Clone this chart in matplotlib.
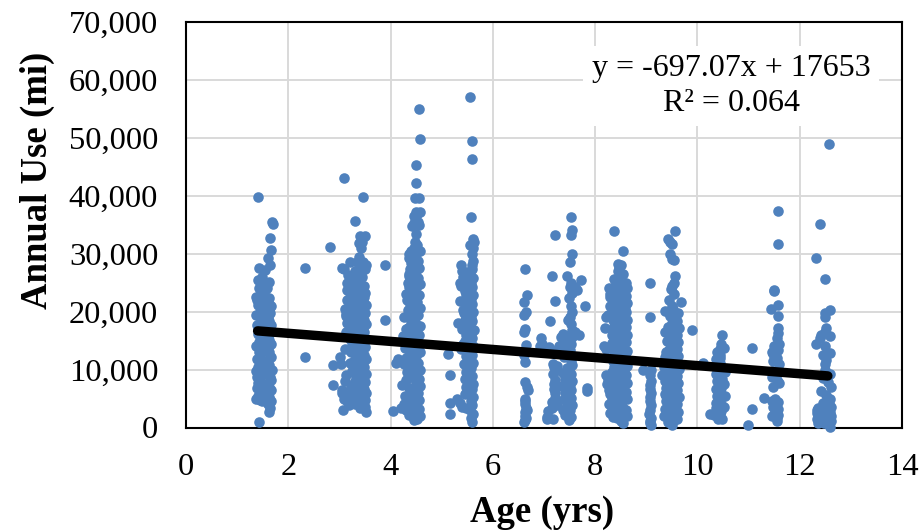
import matplotlib
matplotlib.use('Agg')
import matplotlib.pyplot as plt

# each strip is one thin column of dots
age_a = [1.42, 1.4, 1.36, 1.45, 1.39, 1.41, 1.38, 1.43, 1.37, 1.4, 1.44, 1.38, 1.42, 1.36, 1.43, 1.4, 1.39, 1.37, 1.44, 1.41, 1.38, 1.36, 1.42, 1.4, 1.43, 1.4]
use_a = [1000, 5500, 5000, 4700, 6900, 7700, 8700, 8200, 9800, 10500, 11000, 11800, 13000, 14000, 14800, 16100, 17700, 19400, 20000, 21100, 22000, 22600, 24000, 25500, 27600, 39800]
age_b = [1.62, 1.65, 1.6, 1.66, 1.63, 1.58, 1.67, 1.62, 1.6, 1.66, 1.64, 1.59, 1.68, 1.62, 1.6, 1.66, 1.63, 1.6, 1.67, 1.62, 1.6, 1.65, 1.58, 1.66, 1.63, 1.6, 1.64, 1.62, 1.66, 1.63, 1.62, 1.55, 1.58, 1.63, 1.64, 1.6, 1.66]
use_b = [2700, 3300, 4100, 4600, 5300, 5800, 6400, 7000, 7600, 8200, 8800, 9500, 10000, 10800, 11600, 12200, 13000, 13400, 14500, 15100, 15700, 16300, 16900, 17700, 18400, 19100, 19800, 20300, 20900, 21400, 22300, 23700, 24000, 25200, 28000, 29200, 30600]
age_c = [1.65, 1.68, 1.7]
use_c = [32700, 35400, 35200]
age_a2 = [1.48, 1.52, 1.5, 1.46, 1.54, 1.5, 1.47, 1.52, 1.55, 1.48, 1.5, 1.53, 1.47, 1.5, 1.54, 1.48, 1.5, 1.46, 1.52, 1.5, 1.48, 1.54]
use_a2 = [4500, 6200, 7400, 8900, 10200, 11500, 12900, 13800, 15000, 15900, 16900, 18000, 18800, 19700, 20700, 21500, 22400, 23200, 24200, 25100, 26000, 27200]

age_d = [2.32, 2.32, 2.82, 2.87, 2.87, 3.08, 3.07, 3.06, 3.05, 3.1, 3.12, 3.03, 3.02, 3.1, 3.08, 3.15, 3.12, 3.17, 3.13, 3.1, 3.15, 3.14, 3.05, 3.08, 3.15, 3.2, 3.17]
use_d = [27600, 12100, 31100, 10800, 7300, 43000, 3000, 5900, 6400, 8000, 9000, 11000, 12200, 13600, 5000, 4500, 16500, 19000, 19600, 20500, 22000, 23800, 27500, 27400, 25000, 28500, 26400]
age_e = [3.3, 3.28, 3.32, 3.3, 3.33, 3.27, 3.3, 3.34, 3.28, 3.31, 3.35, 3.29, 3.32, 3.3, 3.34, 3.27, 3.31, 3.29, 3.33, 3.3, 3.28, 3.34, 3.3, 3.32, 3.29, 3.33, 3.31, 3.36, 3.3, 3.27, 3.32, 3.3, 3.35, 3.38, 3.4, 3.3]
use_e = [4000, 4600, 5300, 6000, 6700, 7300, 8100, 8800, 9400, 10200, 10900, 11500, 12300, 12900, 13700, 14300, 15100, 15800, 16500, 17300, 18000, 18800, 19500, 20200, 20900, 21700, 22400, 23000, 23800, 24600, 25300, 27000, 28600, 31800, 33000, 35600]
age_f = [3.52, 3.5, 3.46, 3.5, 3.44, 3.52, 3.48, 3.45, 3.5, 3.47, 3.52, 3.44, 3.49, 3.46, 3.51, 3.48, 3.44, 3.5, 3.47, 3.52, 3.45, 3.49, 3.46, 3.51, 3.48, 3.44, 3.5, 3.47, 3.52, 3.46, 3.49, 3.5, 3.48, 3.45, 3.5, 3.52, 3.46, 3.5, 3.47]
use_f = [2700, 3500, 4000, 4700, 5300, 6000, 6600, 7300, 7900, 8600, 9300, 10000, 10500, 11300, 11900, 12600, 13200, 13900, 14500, 15300, 15900, 16500, 17200, 17900, 18500, 19100, 19800, 20500, 21200, 21800, 22500, 23200, 24500, 26000, 27300, 28000, 28600, 33000, 39800]
age_e2 = [3.4, 3.38, 3.42, 3.4, 3.37, 3.42, 3.4, 3.38, 3.43, 3.4, 3.37, 3.42, 3.39, 3.41, 3.38, 3.43, 3.4, 3.37, 3.42, 3.4, 3.38, 3.43, 3.4, 3.37, 3.42, 3.4, 3.44, 3.38, 3.42, 3.45]
use_e2 = [3400, 4400, 5600, 6500, 7600, 8500, 9700, 10700, 11700, 12700, 13500, 14600, 15500, 16400, 17400, 18300, 19300, 20100, 21000, 21900, 22700, 23600, 24400, 25200, 26100, 27000, 28200, 29500, 31000, 32000]
age_e3 = [3.18, 3.2, 3.22, 3.24, 3.2, 3.22, 3.25, 3.2, 3.18, 3.24, 3.22, 3.2, 3.18, 3.24, 3.22, 3.2, 3.24, 3.22, 3.14, 3.12]
use_e3 = [3800, 5800, 7000, 9800, 11200, 13100, 14200, 15200, 16000, 17200, 18200, 19200, 20000, 21100, 21800, 23200, 24200, 25900, 18000, 19200]

age_g = [3.9, 3.9, 4.1, 4.15, 4.05, 4.2, 4.27, 4.3, 4.28, 4.22, 4.3, 4.32, 4.26, 4.3, 4.28, 4.24, 4.32, 4.3, 4.27, 4.35, 4.32, 4.3, 4.34, 4.37, 4.37]
use_g = [28000, 18500, 11200, 11900, 2900, 3400, 4000, 3100, 5500, 7300, 8200, 9500, 11000, 12000, 13800, 15800, 15200, 17000, 19000, 20300, 22000, 23000, 25000, 26500, 30000]
age_h = [4.45, 4.52, 4.58, 4.48, 4.55, 4.42, 4.5, 4.56, 4.46, 4.53, 4.43, 4.58, 4.49, 4.55, 4.44, 4.51, 4.57, 4.47, 4.53, 4.42, 4.5, 4.58, 4.46, 4.54, 4.43, 4.49, 4.56, 4.45, 4.52, 4.58, 4.47, 4.42, 4.54, 4.5, 4.57, 4.45, 4.52, 4.48, 4.55, 4.43, 4.5, 4.57, 4.46, 4.53, 4.44, 4.5, 4.56, 4.48, 4.54, 4.45, 4.5, 4.57, 4.46, 4.52, 4.47]
use_h = [1300, 1500, 2000, 2600, 3200, 3700, 4300, 4800, 5400, 6000, 6600, 7100, 7700, 8300, 8900, 9500, 10000, 10600, 11200, 11800, 12400, 13000, 13500, 14100, 14700, 15300, 15900, 16500, 17000, 17600, 18200, 18800, 19400, 20000, 20600, 21200, 21700, 22300, 22900, 23500, 24100, 24700, 25300, 25800, 26400, 27000, 27600, 28200, 28800, 29400, 30000, 30500, 31000, 31500, 32000]
age_h2 = [4.36, 4.38, 4.35, 4.4, 4.37, 4.34, 4.39, 4.36, 4.4, 4.38, 4.35, 4.4, 4.37, 4.34, 4.39, 4.36, 4.4, 4.38, 4.35, 4.39, 4.37, 4.4, 4.36, 4.38, 4.4, 4.37, 4.39, 4.38]
use_h2 = [2200, 3300, 4500, 5800, 6900, 8600, 9800, 10900, 11700, 12900, 14000, 15000, 16000, 17200, 18000, 19200, 20500, 21400, 22300, 23400, 24200, 25300, 26100, 27300, 28400, 29300, 30500, 23000]
age_i = [4.42, 4.55, 4.46, 4.52, 4.5, 4.45, 4.54, 4.58, 4.5, 4.48, 4.5, 4.55, 4.58, 4.55]
use_i = [34700, 35000, 36500, 36800, 37200, 35300, 35500, 37200, 33400, 39700, 42200, 39700, 49800, 55000]
age_j = [4.5]
use_j = [45400]

age_k = [5.13, 5.17, 5.16, 5.16, 5.38, 5.4, 5.42, 5.36, 5.38, 5.35, 5.42, 5.32, 5.4, 5.3, 5.4, 5.36, 5.42, 5.38]
use_k = [12700, 9000, 4200, 2400, 28000, 27000, 26000, 25000, 24400, 21900, 20300, 18000, 17000, 5000, 3500, 4300, 14500, 13500]
age_l = [5.6, 5.58, 5.62, 5.55, 5.6, 5.57, 5.62, 5.54, 5.59, 5.62, 5.56, 5.6, 5.53, 5.58, 5.62, 5.55, 5.6, 5.57, 5.62, 5.54, 5.6, 5.57, 5.63, 5.55, 5.6, 5.58, 5.62, 5.54, 5.6, 5.58, 5.62, 5.56, 5.6, 5.58, 5.62, 5.56, 5.6, 5.6, 5.62, 5.6, 5.55, 5.57, 5.6, 5.6]
use_l = [900, 1600, 2400, 3100, 3800, 4500, 5300, 6000, 6700, 7500, 8200, 8900, 9600, 10300, 11100, 11800, 12500, 13300, 14000, 14700, 15500, 16200, 16900, 17700, 18400, 19100, 19900, 20600, 21300, 22100, 22800, 23500, 24300, 25000, 25800, 26500, 27300, 28000, 28800, 30000, 31500, 36400, 49500, 46400]
age_l2 = [5.47, 5.45, 5.48, 5.46, 5.47, 5.44, 5.48, 5.46, 5.45, 5.47, 5.48, 5.46, 5.44, 5.47, 5.45, 5.48, 5.46, 5.47, 5.45, 5.48]
use_l2 = [3300, 5800, 7000, 8400, 9600, 11000, 12300, 13900, 15000, 16000, 17300, 18600, 19700, 20700, 21900, 22800, 23600, 24300, 25500, 26800]
age_m = [5.55, 5.62, 5.63, 5.62]
use_m = [57000, 31000, 32000, 32500]

age_n = [6.62, 6.66, 6.6, 6.64, 6.61, 6.63, 6.6, 6.65, 6.62, 6.6, 6.62, 6.63, 6.66, 6.68, 6.62, 6.63, 6.62, 6.65, 6.66, 6.62, 6.62, 6.64, 6.62, 6.61]
use_n = [27300, 22800, 21700, 20000, 19400, 17000, 16400, 14200, 13000, 12500, 11300, 7800, 7000, 6500, 5000, 4500, 4000, 3300, 3000, 2600, 2000, 1600, 1300, 1000]
age_o = [6.95, 6.97, 6.93, 7.1, 7.15, 7.22, 7.22, 7.12, 7.05, 7.2, 7.18, 7.22, 7.25, 7.2, 7.22, 7.15, 7.15, 7.05, 7.08, 7.18, 7.2, 7.25, 7.22, 7.25, 7.18, 7.25, 7.3, 7.25]
use_o = [15500, 14500, 14000, 13900, 26100, 33200, 21900, 18300, 1800, 10500, 9300, 8200, 9900, 6600, 5900, 4400, 3400, 1500, 2800, 1400, 7500, 7100, 5100, 3800, 11000, 10600, 14000, 13300]
age_p = [7.52, 7.54, 7.52, 7.54, 7.5, 7.45, 7.52, 7.5, 7.54, 7.48, 7.52, 7.55, 7.5, 7.47, 7.52, 7.55, 7.5, 7.48, 7.53, 7.5, 7.47, 7.52, 7.55, 7.49, 7.52, 7.47, 7.55, 7.5, 7.52, 7.48, 7.53, 7.5, 7.55, 7.5, 7.47, 7.52, 7.49]
use_p = [36400, 34100, 33200, 30000, 28500, 26100, 25000, 24300, 23300, 22300, 21000, 20000, 19000, 18500, 17800, 16900, 16000, 15200, 14400, 13400, 12300, 11500, 10800, 10000, 9300, 8600, 8000, 7300, 6500, 5800, 5100, 4500, 3800, 3100, 2400, 1800, 1300]
age_p2 = [7.42, 7.4, 7.44, 7.38, 7.42, 7.36, 7.42, 7.4, 7.44, 7.38, 7.42, 7.4]
use_p2 = [14800, 12100, 10300, 9400, 8300, 7100, 6100, 5000, 4000, 3000, 2100, 13500]
age_q = [7.8, 7.72, 7.65, 7.84, 7.84, 7.6, 7.55, 7.68, 7.6, 7.38, 7.33, 7.32]
use_q = [20900, 25500, 23800, 6900, 6300, 16500, 15700, 16000, 24300, 16200, 15700, 13500]

age_r = [8.37, 8.55, 8.45, 8.47, 8.44, 8.2, 8.22, 8.25, 8.18, 8.22, 8.3, 8.28, 8.3, 8.22, 8.26, 8.24, 8.28, 8.3, 8.32, 8.27, 8.32, 8.3, 8.35, 8.3]
use_r = [34000, 30500, 28300, 27500, 27000, 17100, 19000, 19500, 14000, 13500, 23100, 24000, 22500, 9000, 8200, 7500, 6500, 5800, 5000, 4000, 16000, 21000, 12000, 2500]
age_s = [8.55, 8.5, 8.42, 8.58, 8.47, 8.54, 8.4, 8.52, 8.45, 8.58, 8.48, 8.42, 8.55, 8.5, 8.45, 8.58, 8.4, 8.52, 8.47, 8.55, 8.42, 8.5, 8.58, 8.45, 8.52, 8.4, 8.55, 8.48, 8.44, 8.58, 8.5, 8.42, 8.54, 8.47, 8.58, 8.42, 8.52, 8.45, 8.56, 8.48, 8.52, 8.45, 8.55, 8.5]
use_s = [700, 1100, 1600, 2200, 2800, 3400, 3900, 4500, 5100, 5700, 6300, 6800, 7400, 8000, 8600, 9200, 9800, 10400, 11000, 11600, 12200, 12800, 13400, 14000, 14600, 15200, 15800, 16400, 17000, 17600, 18200, 18800, 19400, 20000, 20600, 21200, 21800, 22400, 23000, 23600, 24500, 25500, 26500, 28000]
age_s2 = [8.35, 8.33, 8.36, 8.34, 8.37, 8.32, 8.35, 8.37, 8.33, 8.36, 8.34, 8.37, 8.35, 8.33, 8.36, 8.34, 8.37, 8.35, 8.33, 8.36, 8.34, 8.37, 8.35, 8.38, 8.36]
use_s2 = [1800, 2900, 3700, 4700, 5600, 6600, 7600, 8500, 9500, 10500, 11400, 12500, 13600, 14600, 15500, 16500, 17500, 18500, 19500, 20500, 21500, 22400, 23500, 24500, 25600]
age_s3 = [8.62, 8.6, 8.63, 8.61, 8.63, 8.6, 8.62, 8.6, 8.63, 8.61, 8.62, 8.6, 8.63, 8.61, 8.62, 8.6, 8.62, 8.6]
use_s3 = [2000, 3000, 5000, 6100, 7700, 9000, 10600, 12000, 13200, 14700, 16000, 17300, 18500, 20000, 21500, 22700, 24000, 25000]

age_t = [9.08, 9.08, 8.93, 9.1, 9.07, 9.1, 9.08, 9.07, 9.1, 9.08, 9.07, 9.09, 9.08, 9.06, 9.1, 9.08, 9.07, 9.1]
use_t = [25000, 19000, 9900, 10000, 9000, 8000, 7300, 6600, 6000, 5200, 4500, 3800, 3000, 2300, 1700, 1200, 800, 500]
age_u = [9.57, 9.42, 9.47, 9.47, 9.55, 9.57, 9.67, 9.37, 9.37, 9.9, 9.55, 9.5, 9.48, 9.3, 9.35, 9.38, 9.5, 9.5]
use_u = [34000, 32500, 32000, 30000, 28900, 26100, 21700, 20100, 16500, 16800, 25000, 29100, 23900, 9000, 10500, 13000, 31700, 24500]
age_v = [9.5, 9.42, 9.55, 9.47, 9.58, 9.4, 9.52, 9.45, 9.57, 9.38, 9.5, 9.55, 9.42, 9.47, 9.58, 9.4, 9.52, 9.45, 9.57, 9.38, 9.5, 9.55, 9.42, 9.47, 9.58, 9.4, 9.52, 9.45, 9.57, 9.42, 9.5, 9.55, 9.47, 9.45, 9.52, 9.5, 9.45, 9.55]
use_v = [500, 900, 1300, 1800, 2400, 3000, 3600, 4200, 4800, 5400, 6000, 6600, 7200, 7800, 8400, 9000, 9600, 10200, 10800, 11400, 12000, 12600, 13200, 13800, 14400, 15000, 15600, 16200, 16800, 17400, 18000, 18600, 19200, 19800, 20400, 21000, 22000, 23000]
age_v2 = [9.6, 9.62, 9.6, 9.63, 9.6, 9.62, 9.6, 9.63, 9.6, 9.62, 9.6, 9.62, 9.6, 9.63, 9.6, 9.62, 9.35, 9.36, 9.38, 9.36, 9.38, 9.36, 9.37, 9.36]
use_v2 = [1500, 2700, 4000, 5200, 6500, 7600, 8900, 10100, 11200, 12400, 13600, 14700, 16000, 17200, 18300, 19700, 1900, 3200, 4500, 5700, 6800, 8000, 9300, 12200]

age_w = [10.48, 10.47, 10.45, 10.45, 10.1, 10.25, 10.42, 10.45, 10.47, 10.43, 10.46, 10.48, 10.44, 10.47, 10.45, 10.48, 10.43, 10.46, 10.44, 10.47, 10.45, 10.42, 10.48, 10.45, 10.33, 10.37, 10.4]
use_w = [15900, 14400, 13500, 12600, 11100, 2400, 11900, 11200, 10400, 9700, 9000, 8300, 7600, 6900, 6200, 5500, 4800, 4100, 3500, 2900, 2300, 1700, 1400, 12000, 2200, 2600, 1500]
age_w2 = [10.38, 10.36, 10.38, 10.37, 10.38, 10.36, 10.38, 10.37, 10.36, 10.52, 10.53, 10.52, 10.53, 10.52]
use_w2 = [13000, 11800, 10500, 9300, 8000, 6700, 5400, 4300, 3300, 3500, 5500, 7500, 9500, 13800]
age_x = [11.07, 11.07, 10.99]
use_x = [13800, 3200, 500]
age_y = [11.57, 11.57, 11.5, 11.5, 11.57, 11.43, 11.57, 11.57, 11.58, 11.55, 11.6, 11.5, 11.58, 11.48, 11.55, 11.6, 11.45, 11.55, 11.6, 11.3, 11.52, 11.58, 11.5, 11.57, 11.52, 11.58, 11.55, 11.56, 11.58]
use_y = [37300, 31600, 23800, 23500, 21200, 20500, 19200, 17100, 16300, 15400, 14500, 14000, 13300, 12700, 12000, 11000, 8800, 8200, 7700, 5100, 5000, 4400, 3800, 3200, 2700, 2100, 1600, 1200, 9700]
age_y2 = [11.46, 11.47, 11.46, 11.47, 11.45, 11.47, 11.46]
use_y2 = [2000, 3500, 4600, 7000, 9800, 11500, 13000]
age_z = [12.57, 12.4, 12.32, 12.5, 12.6, 12.5, 12.5, 12.52, 12.42, 12.5, 12.6, 12.32, 12.4, 12.6, 12.5, 12.52, 12.45]
use_z = [48900, 35200, 29200, 25600, 20200, 19800, 19100, 17100, 16000, 16400, 15800, 14500, 15500, 12800, 14000, 11600, 12500]
age_z2 = [12.5, 12.6, 12.45, 12.55, 12.62, 12.42, 12.52, 12.6, 12.33, 12.36, 12.45, 12.57, 12.62, 12.33, 12.4, 12.5, 12.6, 12.36, 12.45, 12.55, 12.62, 12.33, 12.42, 12.5, 12.57, 12.62, 12.35, 12.47, 12.55, 12.6, 12.5]
use_z2 = [9900, 9200, 8500, 7800, 7000, 6300, 5600, 5000, 3000, 3300, 4300, 4000, 3600, 2500, 2700, 3000, 2700, 1900, 2000, 2100, 2000, 1400, 1400, 1500, 1300, 1200, 800, 700, 600, 100, 10900]

trend_age = [1.4, 12.55]
trend_use = [16680, 8900]

x_ticks = [0, 2, 4, 6, 8, 10, 12, 14]
y_ticks = [0, 10000, 20000, 30000, 40000, 50000, 60000, 70000]

plt.rcParams['font.family'] = ['Liberation Serif', 'DejaVu Serif']

fig = plt.figure(figsize=(9.21, 5.32), dpi=100)
ax = fig.add_axes([186/921, 1 - 427.5/532, (902 - 186)/921, (427.5 - 22)/532])

strips = [(age_a, use_a), (age_a2, use_a2), (age_b, use_b), (age_c, use_c), (age_d, use_d), (age_e, use_e),
          (age_e2, use_e2), (age_e3, use_e3), (age_f, use_f), (age_g, use_g), (age_h, use_h), (age_h2, use_h2),
          (age_i, use_i), (age_j, use_j), (age_k, use_k), (age_l, use_l), (age_l2, use_l2), (age_m, use_m),
          (age_n, use_n), (age_o, use_o), (age_p, use_p), (age_p2, use_p2), (age_q, use_q), (age_r, use_r),
          (age_s, use_s), (age_s2, use_s2), (age_s3, use_s3), (age_t, use_t), (age_u, use_u), (age_v, use_v),
          (age_v2, use_v2), (age_w, use_w), (age_w2, use_w2), (age_x, use_x), (age_y, use_y), (age_y2, use_y2),
          (age_z, use_z), (age_z2, use_z2)]
for ages, uses in strips:
    ax.scatter(ages, uses, s=58, color='#4F81BD', linewidths=0, zorder=3, clip_on=False)

ax.plot(trend_age, trend_use, color='black', linewidth=6.8, solid_capstyle='round', zorder=4)

ax.set_xlim(0, 14)
ax.set_ylim(0, 70000)
ax.set_xticks(x_ticks)
ax.set_yticks(y_ticks)
ax.set_yticklabels(['{:,}'.format(v) for v in y_ticks])
ax.tick_params(length=0, labelsize=23.4)
ax.tick_params(axis='y', pad=20)
ax.tick_params(axis='x', pad=18.5)
ax.grid(True, color='#D9D9D9', linewidth=1.4, zorder=0)
ax.set_axisbelow(True)
for s in ax.spines.values():
    s.set_linewidth(1.5)
    s.set_color('black')

fig.text(37/921, 1 - 180/532, 'Annual Use (mi)', rotation=90, ha='center', va='center', fontsize=26.5, fontweight='bold')
fig.text(542.5/921, 1 - 513/532, 'Age (yrs)', ha='center', va='center', fontsize=26.5, fontweight='bold')

fig.text(731/921, 1 - 86/532, 'y = -697.07x + 17653\nR² = 0.064', ha='center', va='center', fontsize=23,
         linespacing=1.25, zorder=5, bbox=dict(facecolor='white', edgecolor='none', pad=6))

fig.savefig('out.png', dpi=100)
